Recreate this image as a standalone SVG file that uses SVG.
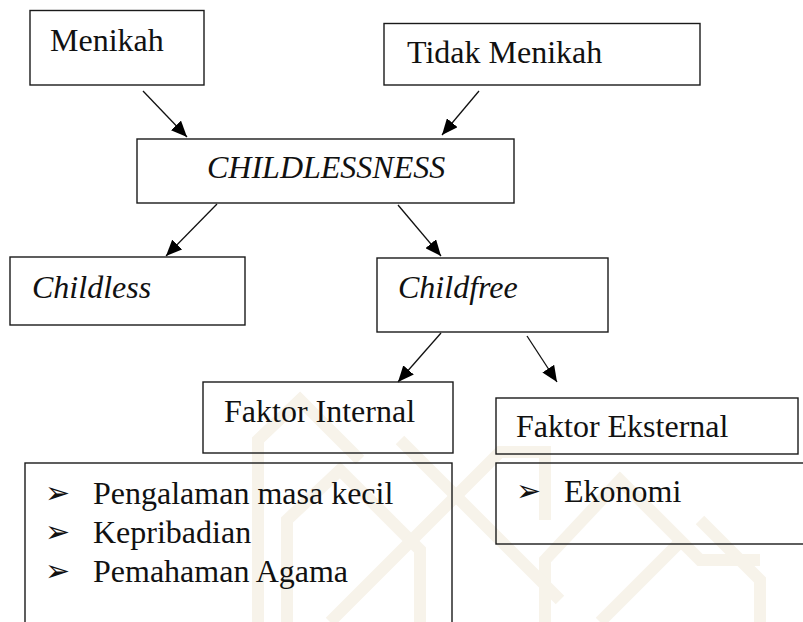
<svg xmlns="http://www.w3.org/2000/svg" width="803" height="622" viewBox="0 0 803 622">
  <style>
    .box { fill: none; stroke: #1a1a1a; stroke-width: 1.4; }
    .lbl { font-family: 'Liberation Serif', 'Times New Roman', serif; font-size: 32px; fill: #111; }
    .it { font-style: italic; }
    .bul { font-family: 'DejaVu Sans', sans-serif; font-size: 30px; fill: #111; }
    .edge { stroke: #111; stroke-width: 1.3; fill: none; marker-end: url(#head); }
    .wm { fill: none; stroke: #f7f3ea; stroke-width: 12; stroke-linejoin: miter; }
  </style>
  <defs>
    <marker id="head" viewBox="0 0 16 14" refX="16" refY="7" markerWidth="16" markerHeight="14" markerUnits="userSpaceOnUse" orient="auto">
      <path d="M0,0 L16,7 L0,14 Z" fill="#000"/>
    </marker>
  </defs>
  <rect width="803" height="622" fill="#fff"/>

  <!-- faint background emblem -->
  <g id="emblem" class="wm">
    <polyline points="258,622 258,440 300,400 360,460"/>
    <polyline points="287,622 287,520 340,470 420,550 420,622"/>
    <polyline points="330,622 420,532 500,452 545,452 545,520"/>
    <polyline points="545,622 545,560 620,480 700,560 760,560"/>
    <polyline points="600,622 680,542"/>
    <polyline points="400,440 470,510 560,600"/>
    <polyline points="700,520 760,580 760,622"/>
  </g>

  <!-- connectors -->
  <g id="connectors">
    <line class="edge" x1="143" y1="91" x2="187" y2="137"/>
    <line class="edge" x1="479" y1="91" x2="442" y2="135"/>
    <line class="edge" x1="217" y1="204" x2="166" y2="256"/>
    <line class="edge" x1="398" y1="205" x2="441" y2="256"/>
    <line class="edge" x1="441" y1="333" x2="398" y2="382"/>
    <line class="edge" x1="527" y1="336" x2="557" y2="382"/>
  </g>

  <g id="menikah">
    <rect class="box" x="30" y="10.5" width="174" height="74.5"/>
    <text class="lbl" x="50" y="51">Menikah</text>
  </g>

  <g id="tidak-menikah">
    <rect class="box" x="384" y="23.5" width="316" height="61.5"/>
    <text class="lbl" x="407" y="63">Tidak Menikah</text>
  </g>

  <g id="childlessness">
    <rect class="box" x="137" y="139" width="377" height="64"/>
    <text class="lbl it" x="207" y="178">CHILDLESSNESS</text>
  </g>

  <g id="childless">
    <rect class="box" x="10" y="257" width="235" height="68"/>
    <text class="lbl it" x="32" y="298">Childless</text>
  </g>

  <g id="childfree">
    <rect class="box" x="377" y="258" width="231" height="74"/>
    <text class="lbl it" x="398" y="298">Childfree</text>
  </g>

  <g id="faktor-internal">
    <rect class="box" x="203" y="382" width="250" height="71"/>
    <text class="lbl" x="224" y="422">Faktor Internal</text>
  </g>

  <g id="faktor-eksternal">
    <rect class="box" x="496" y="398" width="302" height="56"/>
    <text class="lbl" x="516" y="437">Faktor Eksternal</text>
  </g>

  <g id="internal-list">
    <rect class="box" x="25" y="463" width="427" height="190"/>
    <text class="bul" x="45" y="503">➢</text>
    <text class="lbl" x="93" y="504">Pengalaman masa kecil</text>
    <text class="bul" x="45" y="542">➢</text>
    <text class="lbl" x="93" y="543">Kepribadian</text>
    <text class="bul" x="45" y="581">➢</text>
    <text class="lbl" x="93" y="582">Pemahaman Agama</text>
  </g>

  <g id="external-list">
    <rect class="box" x="496" y="463" width="320" height="81"/>
    <text class="bul" x="516" y="501">➢</text>
    <text class="lbl" x="564" y="502">Ekonomi</text>
  </g>
</svg>
